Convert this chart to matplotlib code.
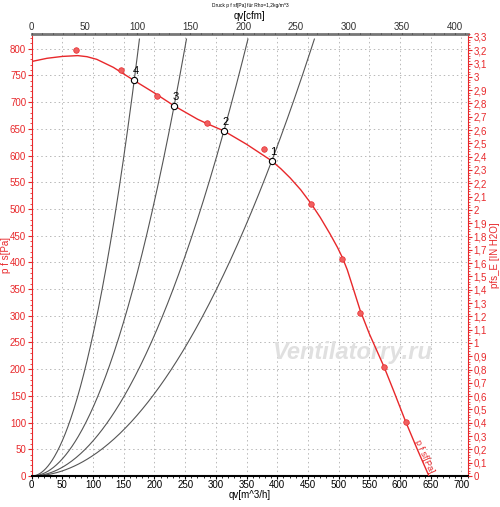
import numpy as np
import matplotlib
matplotlib.use("Agg")
import matplotlib.pyplot as plt
from matplotlib.ticker import MultipleLocator, FuncFormatter

plt.rcParams['font.family'] = ['Liberation Sans', 'DejaVu Sans']

# Kennlinie des Ventilators (qv [m^3/h], p [Pa])
fan_q = [0, 25, 50, 75, 90, 106, 133, 166, 200, 232, 270, 285, 313, 350, 391,
         406, 421, 438, 455, 470, 486, 498, 506, 514, 524, 535, 550, 574, 590, 609, 628, 647]
fan_p = [776, 782, 785.5, 787, 785, 780, 765, 741, 717, 693, 668, 660, 646, 621, 590,
         575, 558, 536, 510, 484, 453, 428, 409, 386, 350, 310, 266, 204, 158, 102, 50, 0]

# Messpunkte (rot)
meas_q = [72, 145, 204, 285, 378, 455, 506, 535, 574, 609]
meas_p = [797, 760, 711, 660, 612, 510, 407, 306, 204, 101]

# Betriebspunkte 1..4
op_labels = ['1', '2', '3', '4']
op_q = [391, 313, 232, 167]
op_p = [590, 646, 693, 741]
sys_top = 818

RED = '#e8282b'
PA_PER_INH2O = 249.09

fig = plt.figure(figsize=(5, 5.07), dpi=100)
ax = fig.add_axes([0.0634, 0.0611, 0.8726, 0.8724])
ax.set_xlim(0, 710.6)
ax.set_ylim(0, 828)

# Anlagenkennlinien p = k*q^2 durch die Betriebspunkte
for q0, p0 in zip(op_q, op_p):
    k = p0 / q0 ** 2
    qq = np.linspace(0, np.sqrt(sys_top / k), 200)
    ax.plot(qq, k * qq ** 2, color='#555555', lw=0.8, zorder=2)

ax.plot(fan_q, fan_p, color=RED, lw=1.0, zorder=3)
ax.plot(meas_q, meas_p, 'o', ms=4, mfc='#f06060', mec=RED, mew=0.5, zorder=4)
ax.plot(op_q, op_p, 'o', ms=4.5, mfc='white', mec='black', mew=0.8, zorder=5)
for lab, q0, p0 in zip(op_labels, op_q, op_p):
    ax.annotate(lab, (q0, p0), xytext=(1, 3), textcoords='offset points',
                ha='center', va='bottom', fontsize=8, color='black', zorder=6)

ax.annotate('p f sf[Pa]', (fan_q[-1], fan_p[-1]), xytext=(-3.5, 14),
            textcoords='offset points', ha='center', va='center',
            rotation=-66, rotation_mode='anchor', fontsize=6.5, color=RED)

ax.text(0.734, 0.28, 'Ventilatorry.ru', transform=ax.transAxes, ha='center',
        va='center', fontsize=17, style='italic', fontweight='bold',
        color='#e0e0e0', zorder=1)

# Achsen
ax.xaxis.set_major_locator(MultipleLocator(50))
ax.xaxis.set_minor_locator(MultipleLocator(10))
ax.yaxis.set_major_locator(MultipleLocator(50))
ax.yaxis.set_minor_locator(MultipleLocator(10))
ax.grid(True, which='major', color='#b8b8b8', linestyle=(0, (1.5, 3)), lw=0.7)
ax.set_axisbelow(True)
ax.tick_params(axis='x', which='major', length=2, labelsize=7, colors='black', pad=1)
ax.tick_params(axis='x', which='minor', length=1.2, colors='black')
ax.tick_params(axis='y', which='major', length=3, labelsize=7, colors=RED, pad=1)
ax.tick_params(axis='y', which='minor', length=1.5, colors=RED)
ax.set_xlabel('qv[m^3/h]', fontsize=7, labelpad=0)
ax.set_ylabel('p f s[Pa]', fontsize=7, color=RED, labelpad=-1)
ax.spines['bottom'].set_color('black')
ax.spines['bottom'].set_linewidth(1.5)
ax.spines['left'].set_color(RED)
ax.spines['top'].set_color('#777777')
ax.spines['top'].set_linewidth(2)
ax.spines['right'].set_color(RED)

# obere Achse in cfm
axt = ax.twiny()
axt.set_xlim(0, 412.5)
axt.xaxis.set_major_locator(MultipleLocator(50))
axt.xaxis.set_minor_locator(MultipleLocator(10))
axt.tick_params(axis='x', which='major', length=1, labelsize=7, colors='#333333', pad=0.5)
axt.tick_params(axis='x', which='minor', length=0.8, colors='#333333')
axt.set_xlabel('qv[cfm]', fontsize=7, labelpad=2)
for s in axt.spines.values():
    s.set_visible(False)

# rechte Achse in IN H2O
axr = ax.twinx()
axr.set_ylim(0, 828 / PA_PER_INH2O)
axr.yaxis.set_major_locator(MultipleLocator(0.1))
axr.yaxis.set_minor_locator(MultipleLocator(0.02))
axr.yaxis.set_major_formatter(FuncFormatter(
    lambda v, pos: ('%.1f' % v).rstrip('0').rstrip('.').replace('.', ',')))
axr.tick_params(axis='y', which='major', length=3, labelsize=7, colors=RED, pad=1)
axr.tick_params(axis='y', which='minor', length=1.5, colors=RED)
axr.set_ylabel('pfs_E [IN H2O]', fontsize=7, color=RED, labelpad=2)
for s in axr.spines.values():
    s.set_visible(False)

fig.text(0.5, 0.990, 'Druck p f sf[Pa] für Rho=1,2kg/m^3', ha='center', va='center',
         fontsize=3.5, color='black')

fig.savefig('out.png', dpi=100)
